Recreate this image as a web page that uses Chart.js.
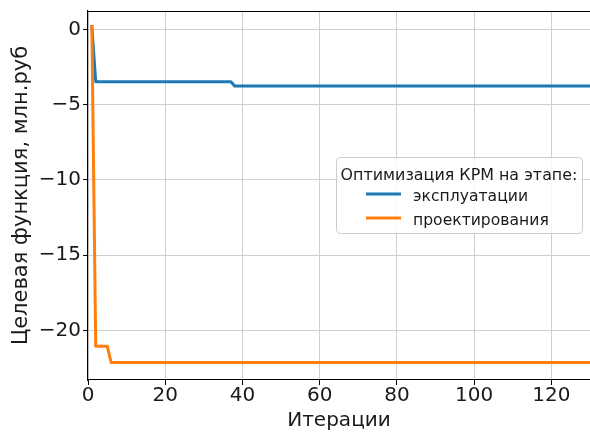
<!DOCTYPE html>
<html>
<head>
<meta charset="utf-8">
<script src="https://cdn.jsdelivr.net/npm/chart.js@4/dist/chart.umd.min.js"></script>
<style>
  html, body { margin: 0; padding: 0; background: #ffffff; }
  #wrap { width: 590px; height: 432px; position: relative; }
</style>
</head>
<body>
<div id="wrap"><canvas id="c" width="590" height="432"></canvas></div>
<script>
// ---- data ----
const seriesLabels = ['эксплуатации', 'проектирования'];
const legendTitle = 'Оптимизация КРМ на этапе:';
const xTitle = 'Итерации';
const yTitle = 'Целевая функция, млн.руб';

const exploitIter   = [1, 2, 37, 38, 130];
const exploitValues = [0.2, -3.47, -3.47, -3.76, -3.76];

const designIter    = [1, 2, 5, 6, 130];
const designValues  = [0.2, -21.06, -21.06, -22.14, -22.14];

const xTickValues = [0, 20, 40, 60, 80, 100, 120];
const yTickValues = [0, -5, -10, -15, -20];

const xRange = [0, 130];
const yRange = [-23.3, 1.23];

const seriesColors = ['#1f77b4', '#ff7f0e'];

function toPoints(xs, ys) { return xs.map((x, i) => ({ x: x, y: ys[i] })); }

const FONT = 'DejaVu Sans';

const topSpine = {
  id: 'topSpine',
  afterDatasetsDraw(chart) {
    const { ctx, chartArea } = chart;
    ctx.save();
    ctx.strokeStyle = '#000000';
    ctx.lineWidth = 1.1;
    ctx.beginPath();
    ctx.moveTo(chartArea.left, chartArea.top + 0.5);
    ctx.lineTo(chartArea.right, chartArea.top + 0.5);
    ctx.stroke();
    ctx.restore();
  }
};

const legendBox = {
  id: 'legendBox',
  afterDraw(chart) {
    const ctx = chart.ctx;
    const bx = 336.5, by = 157.5, bw = 246, bh = 76, r = 4;
    ctx.save();
    ctx.beginPath();
    ctx.moveTo(bx + r, by);
    ctx.lineTo(bx + bw - r, by);
    ctx.quadraticCurveTo(bx + bw, by, bx + bw, by + r);
    ctx.lineTo(bx + bw, by + bh - r);
    ctx.quadraticCurveTo(bx + bw, by + bh, bx + bw - r, by + bh);
    ctx.lineTo(bx + r, by + bh);
    ctx.quadraticCurveTo(bx, by + bh, bx, by + bh - r);
    ctx.lineTo(bx, by + r);
    ctx.quadraticCurveTo(bx, by, bx + r, by);
    ctx.closePath();
    ctx.fillStyle = 'rgba(255,255,255,0.8)';
    ctx.fill();
    ctx.strokeStyle = '#cccccc';
    ctx.lineWidth = 1;
    ctx.stroke();

    ctx.fillStyle = '#1a1a1a';
    ctx.font = '15.9px "' + FONT + '"';
    ctx.textAlign = 'center';
    ctx.textBaseline = 'alphabetic';
    ctx.fillText(legendTitle, bx + bw / 2 - 0.5, 179.5);

    const rows = [194, 218];
    ctx.font = '15.6px "' + FONT + '"';
    chart.data.datasets.forEach((ds) => {
      const idx = seriesLabels.indexOf(ds.label);
      const y = rows[idx];
      ctx.strokeStyle = ds.borderColor;
      ctx.lineWidth = 3;
      ctx.lineCap = 'butt';
      ctx.beginPath();
      ctx.moveTo(366, y);
      ctx.lineTo(401, y);
      ctx.stroke();
      ctx.textAlign = 'left';
      ctx.fillStyle = '#1a1a1a';
      ctx.fillText(ds.label, 413, y + 6.5);
    });
    ctx.restore();
  }
};

new Chart(document.getElementById('c'), {
  type: 'line',
  data: {
    datasets: [
      {
        label: seriesLabels[0],
        data: toPoints(exploitIter, exploitValues),
        borderColor: seriesColors[0],
        backgroundColor: seriesColors[0],
        borderWidth: 3,
        pointRadius: 0,
        tension: 0,
        borderJoinStyle: 'round',
        borderCapStyle: 'square',
        order: 2
      },
      {
        label: seriesLabels[1],
        data: toPoints(designIter, designValues),
        borderColor: seriesColors[1],
        backgroundColor: seriesColors[1],
        borderWidth: 3,
        pointRadius: 0,
        tension: 0,
        borderJoinStyle: 'round',
        borderCapStyle: 'square',
        order: 1
      }
    ]
  },
  options: {
    responsive: false,
    animation: false,
    devicePixelRatio: 1,
    layout: { padding: { top: 11, right: 0, left: 0, bottom: 0 } },
    plugins: {
      legend: { display: false },
      tooltip: { enabled: false },
      title: { display: false }
    },
    scales: {
      x: {
        type: 'linear',
        min: xRange[0],
        max: xRange[1],
        afterBuildTicks(scale) {
          scale.ticks = xTickValues.map(v => ({ value: v }));
        },
        afterFit(scale) {
          scale.height = 52;
          scale.paddingLeft = 0;
          scale.paddingRight = 0;
        },
        ticks: {
          color: '#1a1a1a',
          font: { family: FONT, size: 20, lineHeight: 1 },
          padding: 1,
          maxRotation: 0,
          autoSkip: false,
          callback: v => String(v)
        },
        grid: {
          color: '#cfcfcf',
          lineWidth: 1,
          tickColor: '#000000',
          tickLength: 5,
          tickWidth: 1
        },
        border: { display: true, color: '#000000', width: 1.1 },
        title: {
          display: true,
          text: xTitle,
          color: '#1a1a1a',
          font: { family: FONT, size: 20, lineHeight: 1.1 },
          padding: { top: 0, bottom: 0 }
        }
      },
      y: {
        type: 'linear',
        min: yRange[0],
        max: yRange[1],
        afterBuildTicks(scale) {
          scale.ticks = yTickValues.map(v => ({ value: v }));
        },
        afterFit(scale) {
          scale.width = 88;
          scale.paddingTop = 0;
          scale.paddingBottom = 0;
        },
        ticks: {
          color: '#1a1a1a',
          font: { family: FONT, size: 20 },
          padding: 2,
          autoSkip: false,
          callback: v => (v < 0 ? '\u2212' + Math.abs(v) : String(v))
        },
        grid: {
          color: '#cfcfcf',
          lineWidth: 1,
          tickColor: '#000000',
          tickLength: 5,
          tickWidth: 1
        },
        border: { display: true, color: '#000000', width: 1.1 },
        title: {
          display: true,
          text: yTitle,
          color: '#1a1a1a',
          font: { family: FONT, size: 21, lineHeight: 1.1 },
          padding: { top: 9.5, bottom: 0 }
        }
      }
    }
  },
  plugins: [topSpine, legendBox]
});
</script>
</body>
</html>
